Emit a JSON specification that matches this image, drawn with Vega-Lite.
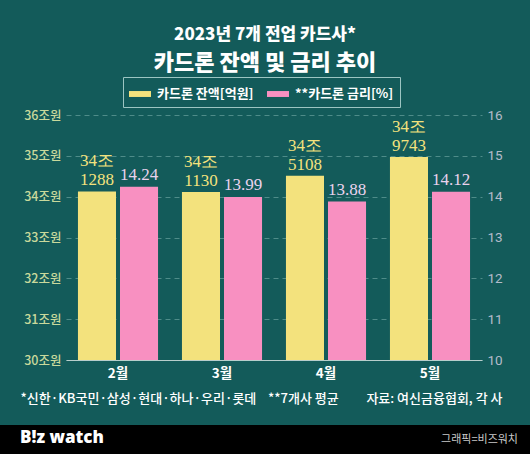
{
  "$schema": "https://vega.github.io/schema/vega-lite/v6.json",
  "background": "#135b5a",
  "padding": 0,
  "spacing": 0,
  "datasets": {
    "cardloan": [
      {"month": "2월", "series": "카드론 잔액[억원]", "value": 341288},
      {"month": "3월", "series": "카드론 잔액[억원]", "value": 341130},
      {"month": "4월", "series": "카드론 잔액[억원]", "value": 345108},
      {"month": "5월", "series": "카드론 잔액[억원]", "value": 349743},
      {"month": "2월", "series": "**카드론 금리[%]", "value": 14.24},
      {"month": "3월", "series": "**카드론 금리[%]", "value": 13.99},
      {"month": "4월", "series": "**카드론 금리[%]", "value": 13.88},
      {"month": "5월", "series": "**카드론 금리[%]", "value": 14.12}
    ]
  },
  "vconcat": [
    {
      "width": 530,
      "height": 425,
      "data": {"name": "cardloan"},
      "title": {
        "text": "2023년 7개 전업 카드사*",
        "subtitle": "카드론 잔액 및 금리 추이",
        "anchor": "middle",
        "frame": "group",
        "orient": "top",
        "offset": -75,
        "color": "#ffffff",
        "font": "Noto Sans CJK KR",
        "fontSize": 17,
        "fontWeight": 900,
        "subtitleColor": "#ffffff",
        "subtitleFont": "Noto Sans CJK KR",
        "subtitleFontSize": 22,
        "subtitleFontWeight": 900,
        "subtitlePadding": 9
      },
      "encoding": {
        "x": {
          "field": "month",
          "type": "nominal",
          "sort": ["2월", "3월", "4월", "5월"],
          "scale": {"range": [66, 482], "paddingInner": 0.23, "paddingOuter": 0.115},
          "axis": {
            "orient": "bottom",
            "offset": -65,
            "domain": true,
            "domainColor": "#b7cecc",
            "ticks": false,
            "labelAngle": 0,
            "labelPadding": 6,
            "labelColor": "#ffffff",
            "labelFont": "Noto Sans CJK KR",
            "labelFontSize": 13.5,
            "labelFontWeight": "bold",
            "title": "*신한·KB국민·삼성·현대·하나·우리·롯데\u00a0\u00a0\u00a0 **7개사 평균",
            "titleX": 20,
            "titleY": 38,
            "titleAlign": "left",
            "titleBaseline": "middle",
            "titleColor": "#ffffff",
            "titleFont": "Noto Sans CJK KR",
            "titleFontSize": 13,
            "titleFontWeight": 500
          }
        },
        "xOffset": {
          "field": "series",
          "type": "nominal",
          "scale": {"domain": ["카드론 잔액[억원]", "**카드론 금리[%]"], "paddingInner": 0.095, "paddingOuter": 0}
        }
      },
      "layer": [
        {
          "transform": [
            {"filter": "datum.series === '카드론 잔액[억원]'"},
            {"calculate": "floor(datum.value / 10000) + '조'", "as": "jo"},
            {"calculate": "'' + (datum.value % 10000)", "as": "eok"}
          ],
          "encoding": {
            "y": {
              "field": "value",
              "type": "quantitative",
              "scale": {"domain": [300000, 360000], "range": [360, 115], "zero": false, "nice": false},
              "axis": {
                "orient": "left",
                "offset": -66,
                "values": [300000, 310000, 320000, 330000, 340000, 350000, 360000],
                "labelExpr": "(datum.value / 10000) + '조원'",
                "domain": false,
                "ticks": false,
                "grid": true,
                "gridColor": "#4f8c89",
                "gridDash": [5, 4],
                "labelColor": "#c9d99c",
                "labelFont": "Noto Sans CJK KR",
                "labelFontSize": 12.5,
                "labelFontWeight": 500,
                "labelPadding": 5,
                "title": null
              }
            }
          },
          "layer": [
            {
              "mark": {"type": "bar"},
              "encoding": {
                "y2": {"datum": 300000},
                "color": {
                  "field": "series",
                  "type": "nominal",
                  "scale": {"domain": ["카드론 잔액[억원]", "**카드론 금리[%]"], "range": ["#f3e27d", "#f890c1"]},
                  "legend": {
                    "orient": "none",
                    "legendX": 123,
                    "legendY": 77,
                    "direction": "horizontal",
                    "title": null,
                    "padding": 6,
                    "strokeColor": "#9cc5c2",
                    "symbolType": "M-1,-0.27H1V0.27H-1Z",
                    "symbolSize": 484,
                    "symbolStrokeWidth": 0,
                    "symbolOpacity": 1,
                    "labelColor": "#ffffff",
                    "labelFont": "Noto Sans CJK KR",
                    "labelFontSize": 13,
                    "labelFontWeight": "bold",
                    "labelOffset": 6,
                    "columnPadding": 13
                  }
                }
              }
            },
            {
              "mark": {"type": "text", "baseline": "bottom", "dy": -21, "font": "Liberation Serif", "fontSize": 17, "color": "#f3e27d"},
              "encoding": {"text": {"field": "jo"}}
            },
            {
              "mark": {"type": "text", "baseline": "bottom", "dy": -2, "font": "Liberation Serif", "fontSize": 17, "color": "#f3e27d"},
              "encoding": {"text": {"field": "eok"}}
            }
          ]
        },
        {
          "transform": [{"filter": "datum.series === '**카드론 금리[%]'"}],
          "encoding": {
            "y": {
              "field": "value",
              "type": "quantitative",
              "scale": {"domain": [10, 16], "range": [360, 115], "zero": false, "nice": false},
              "axis": {
                "orient": "right",
                "offset": -48,
                "values": [10, 11, 12, 13, 14, 15, 16],
                "domain": false,
                "ticks": false,
                "grid": false,
                "labelColor": "#b3bccb",
                "labelFont": "Roboto",
                "labelFontSize": 13.5,
                "labelPadding": 5,
                "title": "자료: 여신금융협회, 각 사",
                "titleAngle": 0,
                "titleX": 20,
                "titleY": 398,
                "titleAlign": "right",
                "titleBaseline": "middle",
                "titleColor": "#ffffff",
                "titleFont": "Noto Sans CJK KR",
                "titleFontSize": 13,
                "titleFontWeight": 500
              }
            }
          },
          "layer": [
            {
              "mark": {"type": "bar"},
              "encoding": {
                "y2": {"datum": 10},
                "color": {"field": "series", "type": "nominal"}
              }
            },
            {
              "mark": {"type": "text", "baseline": "bottom", "dy": -3, "font": "Liberation Serif", "fontSize": 17, "color": "#ead3ee"},
              "encoding": {"text": {"field": "value", "type": "quantitative", "format": ".2f"}}
            }
          ]
        }
      ],
      "resolve": {"scale": {"y": "independent"}, "axis": {"y": "independent"}}
    },
    {
      "width": 530,
      "height": 29,
      "view": {"fill": "#000000", "stroke": null},
      "title": {
        "text": "B!z watch",
        "anchor": "start",
        "frame": "group",
        "orient": "bottom",
        "offset": -24,
        "dx": 20,
        "color": "#ffffff",
        "font": "Open Sans",
        "fontSize": 17,
        "fontWeight": 800
      },
      "data": {"values": [{"credit": "그래픽=비즈워치"}]},
      "mark": {"type": "text", "align": "right", "baseline": "middle", "dx": -12, "color": "#c8c8c8", "font": "Noto Sans CJK KR", "fontSize": 11},
      "encoding": {
        "text": {"field": "credit"},
        "x": {"value": "width"}
      }
    }
  ],
  "config": {
    "view": {"stroke": null},
    "bar": {"stroke": null}
  }
}
